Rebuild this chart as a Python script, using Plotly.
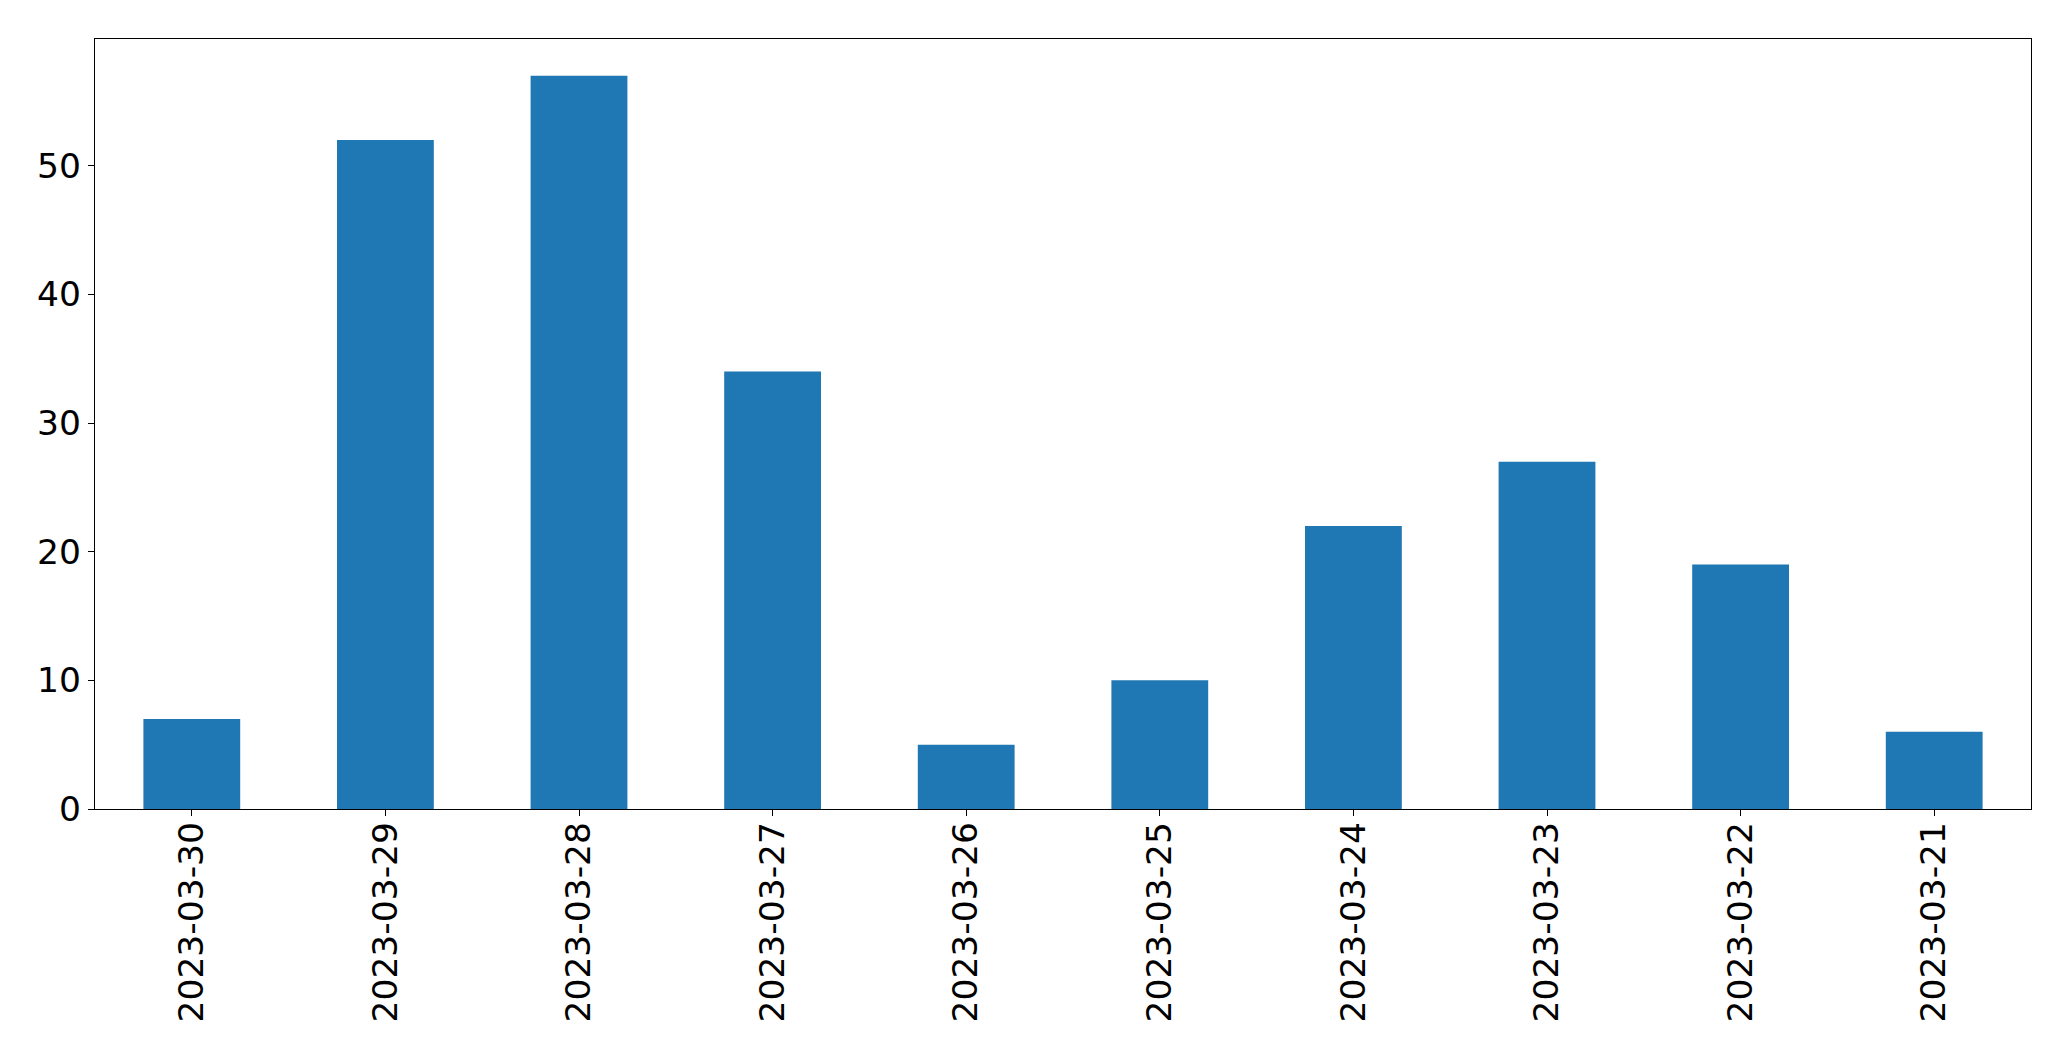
import plotly.graph_objects as go

dates = ["2023-03-30", "2023-03-29", "2023-03-28", "2023-03-27", "2023-03-26",
         "2023-03-25", "2023-03-24", "2023-03-23", "2023-03-22", "2023-03-21"]
counts = [7, 52, 57, 34, 5, 10, 22, 27, 19, 6]
y_ticks = [0, 10, 20, 30, 40, 50]

fig = go.Figure(go.Bar(x=dates, y=counts, marker=dict(color="#1f77b4", line=dict(width=0)), width=0.5))

axis_common = dict(
    showline=True, linecolor="black", linewidth=1.4, mirror=True,
    ticks="outside", ticklen=6, tickwidth=1.4, tickcolor="black",
    showgrid=False, zeroline=False,
    tickfont=dict(family="DejaVu Sans", size=34.5, color="black"),
)

fig.update_layout(
    width=2071, height=1061,
    margin=dict(l=95, r=40, t=39, b=252, pad=0),
    plot_bgcolor="white", paper_bgcolor="white",
    showlegend=False,
    xaxis=dict(type="category", tickangle=-90, range=[-0.5, len(dates) - 0.5],
               ticklabelstandoff=-8, **axis_common),
    yaxis=dict(range=[0, max(counts) * 1.05], tickvals=y_ticks, **axis_common),
)

fig.write_html("out.html")
